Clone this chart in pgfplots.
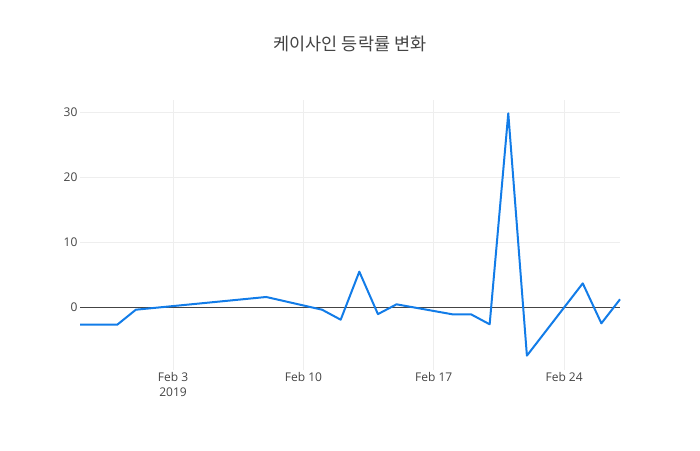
\documentclass[border=0pt]{standalone}
\usepackage{fontspec}
\setmainfont{Open Sans}
\newfontfamily\cjk{Noto Sans CJK KR}
\usepackage{pgfplots}
\pgfplotsset{compat=1.18}
\definecolor{ticktext}{HTML}{444444}
\definecolor{gridc}{HTML}{EEEEEE}
\definecolor{lineblue}{RGB}{18,124,232}

% days counted from 2019-01-29 (day 0)
\pgfplotstableread{
day change
0  -2.68
1  -2.68
2  -2.68
3  -0.37
10  1.59
13 -0.37
14 -1.91
15  5.49
16 -1.05
17  0.46
20 -1.08
21 -1.08
22 -2.62
23 29.89
24 -7.45
27  3.69
28 -2.47
29  1.23
}\kssrate

\begin{document}
\begin{tikzpicture}[x=1pt,y=1pt]
  \begin{axis}[
      at={(0,0)}, anchor=south west,
      scale only axis,
      width=540pt, height=270pt,
      xmin=0, xmax=29,
      ymin=-9.66, ymax=31.94,
      axis line style={draw=none},
      tick style={draw=none},
      xtick={5,12,19,26},
      xticklabels={{Feb 3\\2019},{Feb 10},{Feb 17},{Feb 24}},
      ytick={0,10,20,30},
      grid=major,
      major grid style={gridc, line width=0.8pt},
      /pgf/number format/assume math mode=true,
      ticklabel style={font=\fontsize{12}{15}\selectfont, text=ticktext},
      xticklabel style={align=center, yshift=1pt},
      yticklabel style={xshift=1pt},
      title={\cjk 케이사인 등락률 변화},
      title style={font=\fontsize{17.5}{20}\selectfont, text=ticktext,
                   at={(0.5,1)}, anchor=center, yshift=50pt},
      clip=false,
    ]
    \draw[ticktext, line width=1pt] (axis cs:0,0) -- (axis cs:29,0);
    \addplot[lineblue, line width=2pt, line join=round, mark=none]
      table[x=day, y=change] {\kssrate};
  \end{axis}
  \path[use as bounding box] (-80pt,-80pt) rectangle (620pt,370pt);
\end{tikzpicture}
\end{document}
